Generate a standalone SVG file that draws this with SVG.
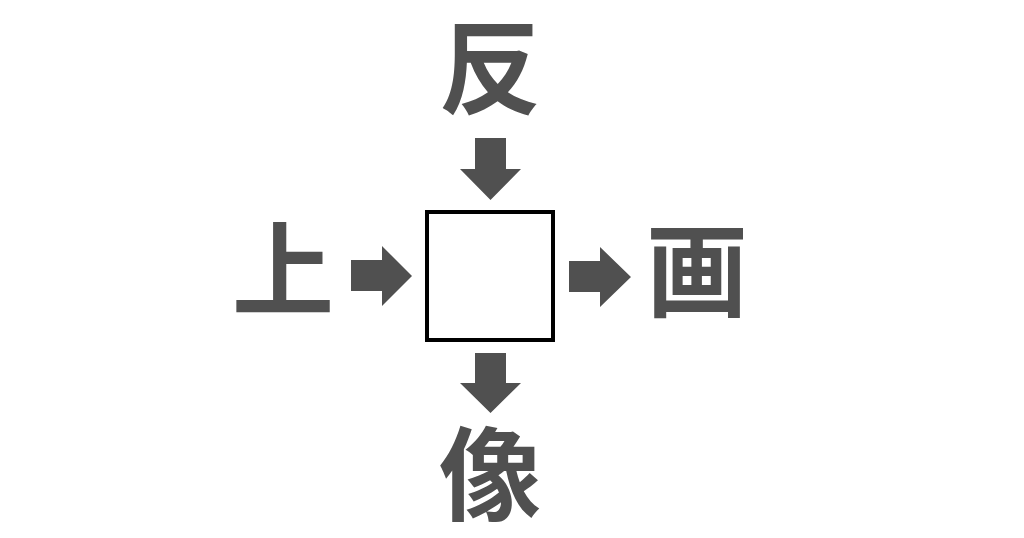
<svg xmlns="http://www.w3.org/2000/svg" width="1024" height="538" viewBox="0 0 1024 538">
<style>
.ch{font-family:"Noto Sans CJK JP","Noto Sans CJK SC",sans-serif;font-weight:600;font-size:102px;fill:#505050;text-anchor:middle;dominant-baseline:central}
.ar{fill:#505050}
.box{fill:#ffffff;stroke:#000000;stroke-width:4}
</style>
<rect width="1024" height="538" fill="#ffffff"/>
<g id="top"><text class="ch" x="490" y="61">反</text></g>
<g id="left"><text class="ch" x="283" y="263">上</text></g>
<g id="right"><text class="ch" x="697" y="264">画</text></g>
<g id="bottom"><text class="ch" x="490" y="468">像</text></g>
<g id="center"><rect class="box" x="427" y="212" width="126" height="128"/></g>
<g id="connectors">
<polygon class="ar" points="475,138 506,138 506,169 521,169 490.5,200 460,169 475,169"/>
<polygon class="ar" points="351,260 382,260 382,246 412,276 382,306 382,291 351,291"/>
<polygon class="ar" points="569,261 600,261 600,247 631,277 600,307 600,292 569,292"/>
<polygon class="ar" points="475,353 506,353 506,383 521,383 490.5,413 460,383 475,383"/>
</g>
</svg>
